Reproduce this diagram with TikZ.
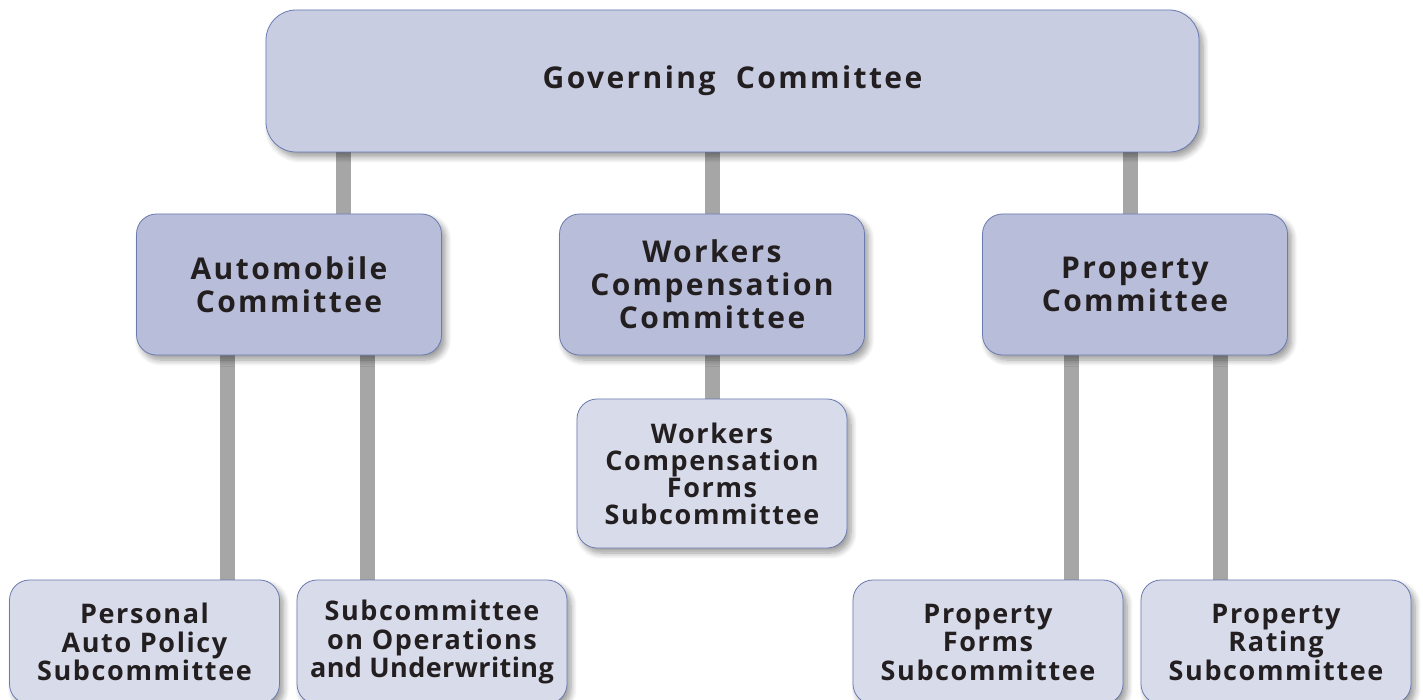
\documentclass[tikz,border=0pt]{standalone}
\usepackage{fontspec}
\newfontfamily\boxfont{Open Sans}[LetterSpace=6.0]
\newfontfamily\bigboxfont{Open Sans}[LetterSpace=8.0]
\usepackage{tikz}
\usetikzlibrary{backgrounds,shadows.blur}

\definecolor{govfill}{HTML}{C8CDE2}
\definecolor{midfill}{HTML}{B8BED9}
\definecolor{lowfill}{HTML}{D8DBEA}
\definecolor{edge}{HTML}{6A7BB0}
\definecolor{bar}{HTML}{A6A6A6}
\definecolor{ink}{HTML}{231F20}

\tikzset{
  box/.style={draw=edge, line width=0.8pt, align=center, inner sep=0pt, outer sep=0pt,
    font=\bigboxfont\bfseries\fontsize{30}{33}\selectfont, text=ink,
    blur shadow={shadow xshift=4pt, shadow yshift=-5pt, shadow blur steps=8, shadow blur radius=6pt, shadow opacity=40}},
  govbox/.style={box, fill=govfill, rounded corners=30pt, minimum width=933pt, minimum height=142pt},
  midbox/.style={box, fill=midfill, rounded corners=20pt, minimum width=305pt, minimum height=141pt},
  lowbox/.style={box, fill=lowfill, rounded corners=20pt, minimum width=270pt,
    font=\boxfont\bfseries\fontsize{27}{28.5}\selectfont},
  link/.style={draw=bar, line width=15pt}
}

\begin{document}
\begin{tikzpicture}[x=1pt, y=-1pt]
\useasboundingbox (0,0) rectangle (1423,700);

% top level
\node[govbox] (gov) at (732.5,81) {Governing\ \ Committee};

% committees
\node[midbox] (auto) at (289,284.5) {Automobile\\Committee};
\node[midbox] (wc) at (712,284.5) {Workers\\Compensation\\Committee};
\node[midbox] (prop) at (1135,284.5) {Property\\Committee};

% subcommittees
\node[lowbox, minimum height=149pt, font=\boxfont\bfseries\fontsize{27}{27}\selectfont] (wcforms) at (712,473.5) {Workers\\Compensation\\Forms\\Subcommittee};
\node[lowbox, minimum height=124pt] (pauto) at (144.5,642) {Personal\\Auto Policy\\Subcommittee};
\node[lowbox, minimum height=124pt] (ops) at (432,642) {Subcommittee\\on Operations\\{\addfontfeature{LetterSpace=1.5}and Underwriting}};
\node[lowbox, minimum height=124pt] (pforms) at (988,642) {Property\\Forms\\Subcommittee};
\node[lowbox, minimum height=124pt] (prating) at (1276,642) {Property\\Rating\\Subcommittee};

% connector columns
\coordinate (c1) at (343,0);
\coordinate (c2) at (712,0);
\coordinate (c3) at (1130,0);
\coordinate (c4) at (227,0);
\coordinate (c5) at (367,0);
\coordinate (c6) at (1071,0);
\coordinate (c7) at (1220,0);

\begin{pgfonlayer}{background}
\draw[link] (c1 |- gov.south) -- (c1 |- auto.north);
\draw[link] (c2 |- gov.south) -- (c2 |- wc.north);
\draw[link] (c3 |- gov.south) -- (c3 |- prop.north);
\draw[link] (c2 |- wc.south) -- (c2 |- wcforms.north);
\draw[link] (c4 |- auto.south) -- (c4 |- pauto.north);
\draw[link] (c5 |- auto.south) -- (c5 |- ops.north);
\draw[link] (c6 |- prop.south) -- (c6 |- pforms.north);
\draw[link] (c7 |- prop.south) -- (c7 |- prating.north);
\end{pgfonlayer}
\end{tikzpicture}
\end{document}
